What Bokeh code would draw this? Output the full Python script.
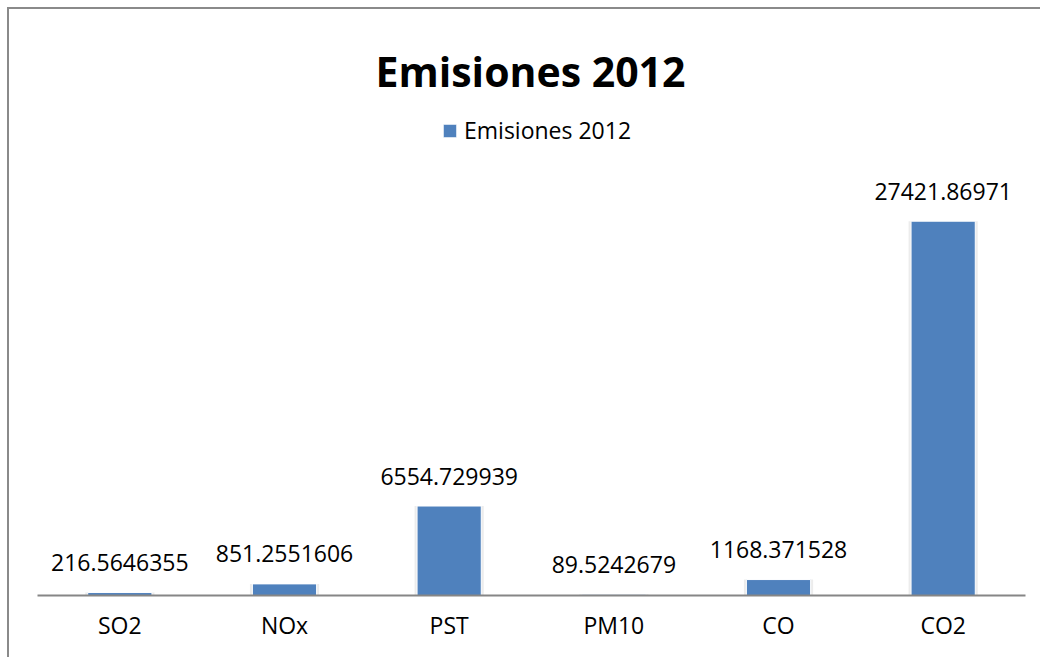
from bokeh.plotting import figure
from bokeh.models import ColumnDataSource, Range1d, FactorRange, Label, Legend, LegendItem
from bokeh.core.properties import value
from bokeh.embed import file_html
from bokeh.resources import INLINE

categories = ["SO2", "NOx", "PST", "PM10", "CO", "CO2"]
emisiones = [216.5646355, 851.2551606, 6554.729939, 89.5242679, 1168.371528, 27421.86971]
labels = ["216.5646355", "851.2551606", "6554.729939", "89.5242679", "1168.371528", "27421.86971"]
title_text = "Emisiones 2012"
series_name = "Emisiones 2012"

src = ColumnDataSource(dict(cat=categories, val=emisiones, lab=labels))

FONT = "Open Sans"

# value axis: 0..30000 over the plot area, extra headroom holds title and legend
y_top = 30000 * 586 / 409.5

p = figure(width=1033, height=650, x_range=FactorRange(*categories, range_padding=0),
           y_range=Range1d(0, y_top), output_backend="svg", toolbar_location=None,
           y_axis_location=None, min_border_left=28, min_border_right=17,
           min_border_top=0, min_border_bottom=64)
p.styles = {"margin-top": "7px", "margin-left": "7px",
            "border-top": "2px solid #8a8a8a", "border-left": "2px solid #8a8a8a"}
p.outline_line_color = None
p.xgrid.visible = False
p.ygrid.visible = False
p.background_fill_color = "white"
p.border_fill_color = "white"

# soft shadow
p.vbar(x="cat", top="val", width=0.42, source=src, fill_color="#c8c8c8", fill_alpha=0.35,
       line_color=None)
bars = p.vbar(x="cat", top="val", width=0.39, source=src, fill_color="#4F81BD",
              line_color="white", line_width=1)

p.text(x="cat", y="val", text="lab", source=src, text_align="center",
       text_baseline="alphabetic", y_offset=-30, text_font=value(FONT),
       text_font_size="23px", text_color="#000000")

ax = p.xaxis[0]
ax.axis_line_color = "#868686"
ax.axis_line_width = 2
ax.major_tick_line_color = None
ax.minor_tick_line_color = None
ax.major_label_text_font = FONT
ax.major_label_text_font_size = "23px"
ax.major_label_text_color = "#000000"
ax.major_label_standoff = 7

p.add_layout(Label(x=493, y=525, x_units="screen", y_units="screen", text=title_text,
                   text_align="center", text_baseline="alphabetic", text_font=FONT,
                   text_font_size="41px", text_font_style="bold", text_color="#000000"))

legend = Legend(items=[LegendItem(label=series_name, renderers=[bars])],
                location=(404, 449), orientation="horizontal", padding=0, margin=0,
                glyph_width=17, glyph_height=17, label_standoff=6,
                label_text_font=FONT, label_text_font_size="23px",
                label_text_color="#000000",
                border_line_color=None, background_fill_alpha=0)
p.add_layout(legend, "center")

open("out.html", "w").write(file_html(p, INLINE))
